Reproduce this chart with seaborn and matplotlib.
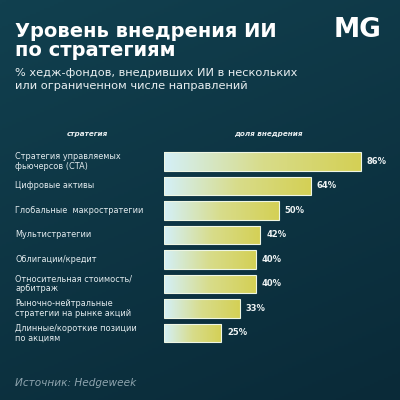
import numpy as np
import pandas as pd
import matplotlib
matplotlib.use('Agg')
import matplotlib.pyplot as plt
import matplotlib.transforms as mtransforms
from matplotlib.colors import LinearSegmentedColormap
import seaborn as sns

strategies = [
    "Стратегия управляемых\nфьючерсов (CTA)",
    "Цифровые активы",
    "Глобальные  макростратегии",
    "Мультистратегии",
    "Облигации/кредит",
    "Относительная стоимость/\nарбитраж",
    "Рыночно-нейтральные\nстратегии на рынке акций",
    "Длинные/короткие позиции\nпо акциям",
]
values = [86, 64, 50, 42, 40, 40, 33, 25]
value_labels = [f"{v}%" for v in values]

title = "Уровень внедрения ИИ\nпо стратегиям"
subtitle = "% хедж-фондов, внедривших ИИ в нескольких\nили ограниченном числе направлений"
col_left = "стратегия"
col_right = "доля внедрения"
source = "Источник: Hedgeweek"
logo = "MG"

sns.set_theme(style="white")
plt.rcParams['font.family'] = ['DejaVu Sans']

fig = plt.figure(figsize=(4, 4), dpi=100)

# background gradient
bg = fig.add_axes([0, 0, 1, 1])
bg.axis('off')
yy, xx = np.mgrid[0:1:200j, 0:1:200j]
g = 0.7 * yy + 0.3 * xx
bgcmap = LinearSegmentedColormap.from_list('bg', ['#11404f', '#0a2a38'])
bg.imshow(g, cmap=bgcmap, aspect='auto', extent=[0, 1, 0, 1], origin='upper')
bg.set_xlim(0, 1)
bg.set_ylim(0, 1)

df = pd.DataFrame({'strategy': strategies, 'value': values})

ax = fig.add_axes([0.41, 0.137, 0.5725, 0.49])
ax.patch.set_alpha(0)
sns.barplot(data=df, x='value', y='strategy', ax=ax, width=0.75,
            color='#d6e890', edgecolor='#eef6e4', linewidth=0.8)

barcmap = LinearSegmentedColormap.from_list('bar', ['#d4f0f8', '#d8dc8a', '#d4d055'])
grad = np.linspace(0, 1, 256).reshape(1, -1)
for p in ax.patches:
    x0, y0 = p.get_x(), p.get_y()
    w, h = p.get_width(), p.get_height()
    im = ax.imshow(grad, cmap=barcmap, aspect='auto',
                   extent=[x0, x0 + w, y0 + h, y0], zorder=p.get_zorder() - 0.1)
    im.set_clip_path(p)
    p.set_facecolor('none')

ax.set_xlim(0, 100)
ax.set_ylim(len(values) - 0.5, -0.5)
ax.axis('off')

trans = mtransforms.blended_transform_factory(fig.transFigure, ax.transData)
for i, (s, v, lab) in enumerate(zip(strategies, values, value_labels)):
    ax.text(0.0375, i, s, transform=trans, ha='left', va='center',
            fontsize=5.9, color='#e4ecef', linespacing=1.1)
    ax.text(v + 2.6, i, lab, ha='left', va='center', fontsize=6.0,
            fontweight='bold', color='#eef3f4')

fig.text(0.0375, 0.945, title, ha='left', va='top', fontsize=14,
         fontweight='bold', color='white', linespacing=1.0)
fig.text(0.0375, 0.83, subtitle, ha='left', va='top', fontsize=8.2,
         color='#e8eef0', linespacing=1.35)
fig.text(0.955, 0.925, logo, ha='right', va='center', fontsize=19,
         fontweight='bold', color='white')
fig.text(0.218, 0.665, col_left, ha='center', va='center', fontsize=5.2,
         fontweight='bold', style='italic', color='#e8eef0')
fig.text(0.67, 0.665, col_right, ha='center', va='center', fontsize=5.2,
         fontweight='bold', style='italic', color='#e8eef0')
fig.text(0.0375, 0.042, source, ha='left', va='center', fontsize=7.6,
         style='italic', color='#8ea4ae')

fig.savefig('out.png', dpi=100)
